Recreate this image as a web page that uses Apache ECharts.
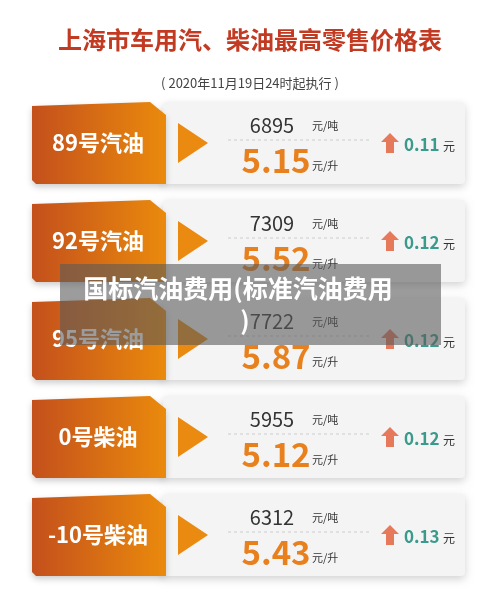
<!DOCTYPE html><html><head><meta charset="utf-8"><script src="https://cdn.jsdelivr.net/npm/echarts@6/dist/echarts.min.js"></script>
<style>html,body{margin:0;background:#fff}#c{width:500px;height:610px}</style></head><body><div id="c"></div><script>
const fuels=['89号汽油','92号汽油','95号汽油','0号柴油','-10号柴油'];
const perTon=['6895','7309','7722','5955','6312'];
const perLiter=['5.15','5.52','5.87','5.12','5.43'];
const changes=['0.11','0.12','0.12','0.12','0.13'];
const chart=echarts.init(document.getElementById('c'));
const F='"Noto Sans CJK SC","Noto Sans",sans-serif';
const g=[];
g.push({type:'text',x:250,y:40,style:{text:'上海市车用汽、柴油最高零售价格表',fill:'#c23a22',font:'bold 24px '+F,textAlign:'center',textVerticalAlign:'middle'}});
g.push({type:'text',x:250,y:83,style:{text:'( 2020年11月19日24时起执行 )',fill:'#444',font:'13px '+F,textAlign:'center',textVerticalAlign:'middle'}});
fuels.forEach((f,i)=>{
  const y=102+i*98,h=82,cy=y+h/2;
  g.push({type:'rect',shape:{x:163,y:y,width:302,height:h,r:4},style:{fill:'#f4f4f4',shadowBlur:8,shadowColor:'rgba(0,0,0,0.18)',shadowOffsetY:3}});
  g.push({type:'polygon',shape:{points:[[32,y+4],[150,y],[166,y+13],[166,y+h],[36,y+h],[32,y+h-4]]},style:{fill:new echarts.graphic.LinearGradient(0,0,1,0,[{offset:0,color:'#c4501c'},{offset:1,color:'#ea8a0c'}]),shadowBlur:6,shadowColor:'rgba(0,0,0,0.2)',shadowOffsetY:3}});
  g.push({type:'text',x:98,y:cy,style:{text:f,fill:'#fff',font:'bold 22px '+F,textAlign:'center',textVerticalAlign:'middle'}});
  g.push({type:'polygon',shape:{points:[[178,cy-20],[208,cy],[178,cy+20]]},style:{fill:'#ea8a10'}});
  g.push({type:'text',x:272,y:y+23,style:{text:perTon[i],fill:'#333',font:'20px '+F,textAlign:'center',textVerticalAlign:'middle'}});
  g.push({type:'text',x:312,y:y+24,style:{text:'元/吨',fill:'#333',font:'11px '+F,textVerticalAlign:'middle'}});
  g.push({type:'line',shape:{x1:228,y1:y+38,x2:370,y2:y+38},style:{stroke:'#ccc',lineDash:[3,3],lineWidth:1}});
  g.push({type:'text',x:276,y:y+58,style:{text:perLiter[i],fill:'#e8801e',font:'bold 33px '+F,textAlign:'center',textVerticalAlign:'middle'}});
  g.push({type:'text',x:312,y:y+64,style:{text:'元/升',fill:'#333',font:'11px '+F,textVerticalAlign:'middle'}});
  g.push({type:'polygon',shape:{points:[[390,cy-10],[399,cy-1],[394,cy-1],[394,cy+10],[386,cy+10],[386,cy-1],[381,cy-1]]},style:{fill:'#e5795a'}});
  g.push({type:'text',x:404,y:cy+2,style:{text:changes[i],fill:'#3a9a8c',font:'bold 17px '+F,textVerticalAlign:'middle'}});
  g.push({type:'text',x:443,y:cy+3,style:{text:'元',fill:'#333',font:'12px '+F,textVerticalAlign:'middle'}});
});
g.push({type:'rect',shape:{x:60,y:264,width:381,height:81},style:{fill:'rgba(90,90,90,0.6)'}});
g.push({type:'text',x:238,y:288,style:{text:'国标汽油费用(标准汽油费用',fill:'#fff',font:'bold 25px '+F,textAlign:'center',textVerticalAlign:'middle'}});
g.push({type:'text',x:245,y:320,style:{text:')',fill:'#fff',font:'bold 25px '+F,textAlign:'center',textVerticalAlign:'middle'}});
chart.setOption({graphic:g});
</script></body></html>
